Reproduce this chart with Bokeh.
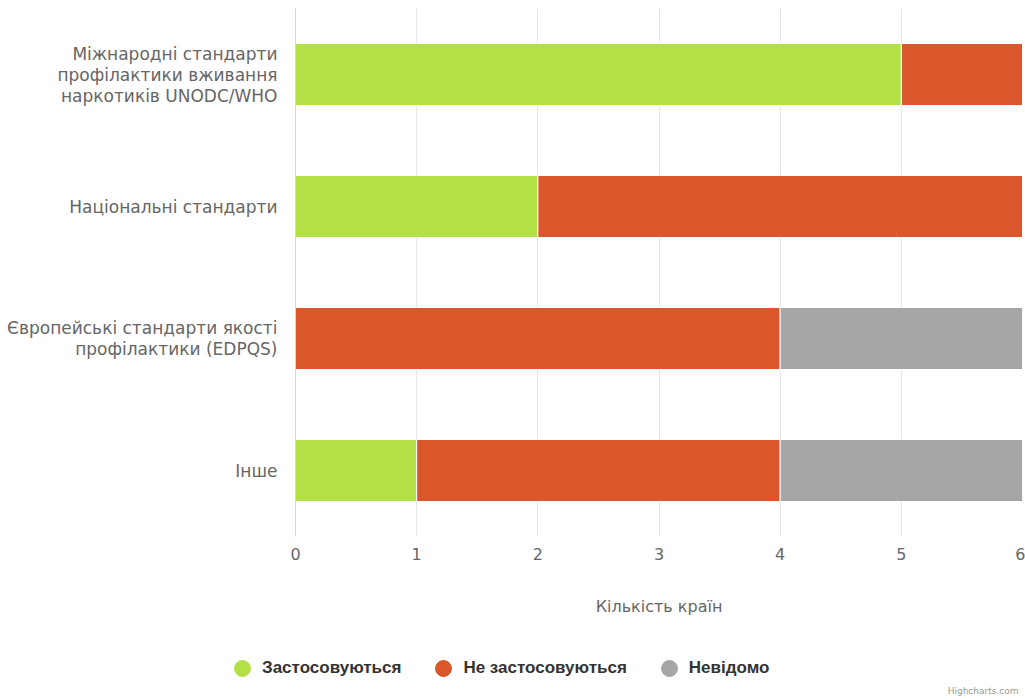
from bokeh.plotting import figure
from bokeh.models import ColumnDataSource, FactorRange, Range1d, Legend, LegendItem, Label
from bokeh.embed import file_html
from bokeh.resources import INLINE

categories = [
    "Міжнародні стандарти\nпрофілактики вживання\nнаркотиків UNODC/WHO",
    "Національні стандарти",
    "Європейські стандарти якості\nпрофілактики (EDPQS)",
    "Інше",
]
series_names = ["Застосовуються", "Не застосовуються", "Невідомо"]
applied = [5, 2, 0, 1]
not_applied = [1, 4, 4, 3]
unknown = [0, 0, 2, 2]
x_ticks = [0, 1, 2, 3, 4, 5, 6]
x_title = "Кількість країн"
colors = ["#b3e046", "#d9572a", "#a6a6a6"]

source = ColumnDataSource(dict(cat=categories, s0=applied, s1=not_applied, s2=unknown))

p = figure(
    width=1025, height=630,
    y_range=FactorRange(*list(reversed(categories))),
    x_range=Range1d(0, 6),
    output_backend="svg", toolbar_location=None,
    min_border_left=295, min_border_right=3, min_border_top=8, min_border_bottom=94,
)
p.outline_line_color = None
p.background_fill_color = "white"

rends = p.hbar_stack(["s0", "s1", "s2"], y="cat", height=0.47, color=colors,
                     line_color="white", line_width=1, source=source)

# axes
p.xaxis.ticker = x_ticks
p.xaxis.axis_line_color = None
p.xaxis.major_tick_line_color = None
p.xaxis.minor_tick_line_color = None
p.xaxis.major_tick_out = 0
p.xaxis.major_tick_in = 0
p.xaxis.minor_tick_out = 0
p.xaxis.major_label_text_font = "DejaVu Sans"
p.xaxis.major_label_text_font_size = "16px"
p.xaxis.major_label_text_color = "#666666"
p.xaxis.major_label_standoff = 11
p.xaxis.axis_label = x_title
p.xaxis.axis_label_text_font = "DejaVu Sans"
p.xaxis.axis_label_text_font_style = "normal"
p.xaxis.axis_label_text_font_size = "16px"
p.xaxis.axis_label_text_color = "#666666"
p.xaxis.axis_label_standoff = 34

p.yaxis.axis_line_color = "#ccd6eb"
p.yaxis.major_tick_line_color = None
p.yaxis.minor_tick_line_color = None
p.yaxis.major_tick_out = 0
p.yaxis.major_tick_in = 0
p.yaxis.minor_tick_out = 0
p.yaxis.major_label_text_font = "DejaVu Sans"
p.yaxis.major_label_text_font_size = "17px"
p.yaxis.major_label_text_line_height = 1.05
p.yaxis.major_label_text_color = "#666666"
p.yaxis.major_label_standoff = 18

p.xgrid.grid_line_color = "#e6e6e6"
p.ygrid.grid_line_color = None

# legend strip below the chart (separate root, frame covers the whole strip)
p2 = figure(width=1025, height=70, x_range=Range1d(0, 1025), y_range=Range1d(0, 70),
            x_axis_type=None, y_axis_type=None, output_backend="svg",
            toolbar_location=None, min_border=0)
p2.outline_line_color = None
p2.grid.grid_line_color = None

nan = float("nan")
items = []
for name, c in zip(series_names, colors):
    r = p2.scatter(x=[nan], y=[nan], marker="circle", size=16, fill_color=c, line_color=c)
    items.append(LegendItem(label=name, renderers=[r]))
legend = Legend(items=items, orientation="horizontal", location=(222, 12),
                glyph_width=40, glyph_height=40, label_standoff=0, spacing=22,
                padding=0, margin=0, border_line_color=None, background_fill_alpha=0,
                label_text_font="Liberation Sans", label_text_font_style="bold",
                label_text_font_size="17px", label_text_color="#333333")
p2.add_layout(legend, "center")

credit = Label(x=1018, y=10, text="Highcharts.com",
               text_align="right", text_baseline="middle", text_font_size="9px",
               text_color="#999999", text_font="DejaVu Sans")
p2.add_layout(credit)

open("out.html", "w").write(file_html([p, p2], INLINE))
